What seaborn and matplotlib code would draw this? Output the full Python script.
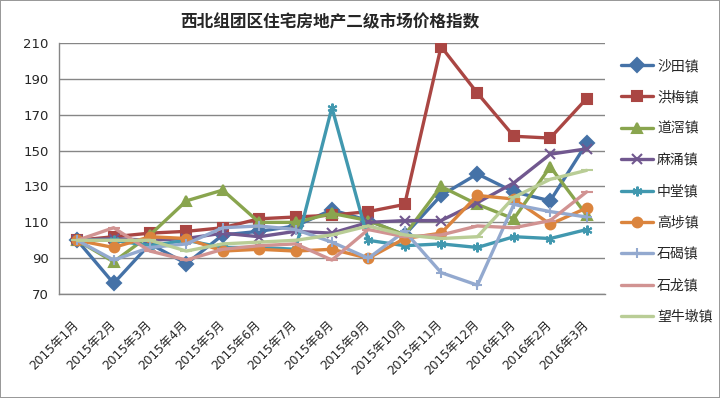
import numpy as np
import pandas as pd
import matplotlib
matplotlib.use("Agg")
import matplotlib.pyplot as plt
import matplotlib.transforms as mtransforms
import seaborn as sns

months = ["2015年1月", "2015年2月", "2015年3月", "2015年4月", "2015年5月",
          "2015年6月", "2015年7月", "2015年8月", "2015年9月", "2015年10月",
          "2015年11月", "2015年12月", "2016年1月", "2016年2月", "2016年3月"]

shatian = [100, 76, 98, 87, 103, 105, 108, 117, 111, 103, 125, 137, 127, 122, 154]
hongmei = [100, 102, 104, 105, 107, 112, 113, 114, 116, 120, 208, 182, 158, 157, 179]
daojiao = [100, 88, 103, 122, 128, 110, 110, 115, 111, 103, 130, 120, 112, 141, 114]
mayong = [100, 101, 100, 101, 104, 102, 105, 104, 110, 111, 111, 121, 132, 148, 151]
zhongtang = [100, 100, 97, 100, 96, 96, 95, 174, 100, 97, 98, 96, 102, 101, 106]
gaobu = [100, 96, 102, 101, 94, 95, 94, 95, 90, 101, 104, 125, 123, 109, 118]
shijie = [100, 89, 96, 98, 107, 108, 106, 99, 90, 105, 82, 75, 120, 116, 113]
shilong = [100, 107, 94, 89, 95, 97, 98, 89, 106, 102, 103, 108, 107, 111, 127]
wangniudun = [100, 100, 100, 94, 98, 99, 100, 103, 108, 103, 101, 102, 124, 134, 139]

towns = ["沙田镇", "洪梅镇", "道滘镇", "麻涌镇", "中堂镇", "高埗镇", "石碣镇", "石龙镇", "望牛墩镇"]
series = [shatian, hongmei, daojiao, mayong, zhongtang, gaobu, shijie, shilong, wangniudun]
colors = ["#4572A7", "#AA4643", "#89A54E", "#71588F", "#4198AF",
          "#DB843D", "#93A9CF", "#D19392", "#B9CD96"]
markers = ["D", "s", "^", "x", (6, 2, 0), "o", "+", "_", "_"]

# long format table for seaborn
rows = []
for town, vals in zip(towns, series):
    for i, v in enumerate(vals):
        rows.append({"month": i, "town": town, "value": v})
df = pd.DataFrame(rows)

sns.set_style("white")
plt.rcParams['font.family'] = ['DejaVu Sans', 'Noto Sans CJK SC']

fig = plt.figure(figsize=(7.2, 3.98), dpi=100)
ax = fig.add_axes([0.082, 0.261, 0.758, 0.631])

for town, color, mk in zip(towns, colors, markers):
    sub = df[df["town"] == town]
    ms = 7
    if mk == "_":
        ms = 8
    sns.lineplot(data=sub, x="month", y="value", ax=ax, color=color,
                 marker=mk, markersize=ms, markeredgewidth=1.5,
                 markeredgecolor=color, linewidth=2.4, label=town)

ax.set_xlim(-0.5, 14.5)
ax.set_ylim(70, 210)
ax.set_yticks(np.arange(70, 211, 20))
ax.set_xticks(np.arange(15))
ax.set_xticklabels(months, rotation=45, ha="right", rotation_mode="anchor", fontsize=8.8)
ax.set_xticks(np.arange(-0.5, 15, 1), minor=True)
ax.tick_params(axis="x", which="major", length=0, pad=10)
ax.tick_params(axis="x", which="minor", length=4, color="#868686", direction="out")
ax.tick_params(axis="y", length=4, color="#868686", direction="out", labelsize=9.5)
ax.yaxis.grid(True, color="#868686", linewidth=1)
ax.set_xlabel("")
ax.set_ylabel("")
for s in ["top", "right"]:
    ax.spines[s].set_visible(False)
for s in ["left", "bottom"]:
    ax.spines[s].set_color("#868686")
    ax.spines[s].set_linewidth(1)

# nudge the rotated month labels a little left/down like the original
shift = mtransforms.ScaledTranslation(-5 / 100, -10 / 100, fig.dpi_scale_trans)
for lbl in ax.get_xticklabels():
    lbl.set_transform(lbl.get_transform() + shift)

ax.legend(loc="center left", bbox_to_anchor=(0.845, 0.519), bbox_transform=fig.transFigure,
          frameon=False, fontsize=10, labelspacing=1.25, handlelength=2.3,
          handletextpad=0.3)

fig.text(0.458, 0.945, "西北组团区住宅房地产二级市场价格指数", ha="center", va="center",
         fontsize=12, fontweight="bold", family=["Noto Sans CJK SC", "DejaVu Sans"])

fig.patch.set_edgecolor("#999999")
fig.patch.set_linewidth(1.2)

plt.savefig("out.png", dpi=100)
plt.close()
